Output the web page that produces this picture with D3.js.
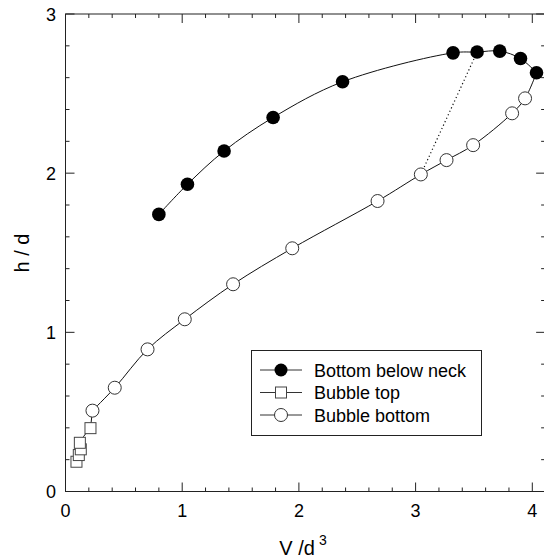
<!DOCTYPE html>
<html lang="en">
<head>
<meta charset="utf-8">
<title>h/d vs V/d3</title>
<script src="https://d3js.org/d3.v7.min.js"></script>
<style>
  body { margin: 0; background: #fff; }
  text { font-family: "Liberation Sans", Arial, Helvetica, sans-serif; fill: #000; }
</style>
</head>
<body>
<svg width="544" height="560"></svg>
<script>
// bottom below neck (filled circles)
var neckV = [0.80, 1.045, 1.359, 1.779, 2.374, 3.321, 3.527, 3.721, 3.899, 4.036];
var neckH = [1.741, 1.930, 2.139, 2.350, 2.574, 2.756, 2.761, 2.767, 2.720, 2.631];
// bubble top (squares)
var topV = [0.214, 0.123, 0.131, 0.114, 0.094];
var topH = [0.398, 0.306, 0.265, 0.229, 0.187];
// bubble bottom (open circles)
var botV = [0.231, 0.422, 0.703, 1.022, 1.436, 1.943, 2.674, 3.045, 3.265, 3.493, 3.827, 3.938];
var botH = [0.508, 0.652, 0.893, 1.082, 1.302, 1.528, 1.825, 1.992, 2.082, 2.176, 2.376, 2.470];
var xTicks = [0, 1, 2, 3, 4];
var yTicks = [0, 1, 2, 3];
var legendLabels = ["Bottom below neck", "Bubble top", "Bubble bottom"];

var svg = d3.select("svg");

var xMax = 4.11;
var x = d3.scaleLinear().domain([0, xMax]).range([65.5, 65.5 + xMax * 116.7]);
var y = d3.scaleLinear().domain([0, 3]).range([491.5, 14]);

function pts(vs, hs) { return vs.map(function(v, i) { return [v, hs[i]]; }); }
var neck = pts(neckV, neckH), top_ = pts(topV, topH), bot = pts(botV, botH);

// frame + ticks (inward, all four sides)
var minorX = d3.range(0, 4.01, 0.2), minorY = d3.range(0, 3.01, 0.2);
var ax = svg.append("g").attr("stroke", "#222").attr("stroke-width", 1).attr("fill", "none");
ax.append("rect")
    .attr("x", x(0)).attr("y", y(3))
    .attr("width", x(xMax) - x(0)).attr("height", y(0) - y(3));

function isMajor(v) { return Math.abs(v - Math.round(v)) < 1e-6; }

minorX.forEach(function(v) {
  var len = isMajor(v) ? 9 : 4;
  ax.append("line").attr("x1", x(v)).attr("x2", x(v)).attr("y1", y(0)).attr("y2", y(0) - len);
  ax.append("line").attr("x1", x(v)).attr("x2", x(v)).attr("y1", y(3)).attr("y2", y(3) + len);
});
minorY.forEach(function(v) {
  var len = isMajor(v) ? 9 : 4;
  ax.append("line").attr("y1", y(v)).attr("y2", y(v)).attr("x1", x(0)).attr("x2", x(0) + len);
  ax.append("line").attr("y1", y(v)).attr("y2", y(v)).attr("x1", x(xMax)).attr("x2", x(xMax) - len);
});

svg.append("g").selectAll("text").data(xTicks).enter().append("text")
    .attr("x", function(d) { return x(d); })
    .attr("y", 517)
    .attr("text-anchor", "middle")
    .attr("font-size", 18)
    .text(function(d) { return d; });

svg.append("g").selectAll("text").data(yTicks).enter().append("text")
    .attr("x", 56)
    .attr("y", function(d) { return y(d) + 6.5; })
    .attr("text-anchor", "end")
    .attr("font-size", 18)
    .text(function(d) { return d; });

// axis titles
svg.append("text")
    .attr("transform", "translate(29,253) rotate(-90)")
    .attr("text-anchor", "middle")
    .attr("font-size", 20)
    .text("h / d");

var xt = svg.append("text")
    .attr("x", 303).attr("y", 555)
    .attr("text-anchor", "middle")
    .attr("font-size", 20);
xt.append("tspan").text("V /d");
xt.append("tspan").attr("font-size", 14).attr("dx", 4).attr("dy", -10).text("3");

// curves
var line = d3.line()
    .x(function(d) { return x(d[0]); })
    .y(function(d) { return y(d[1]); })
    .curve(d3.curveCatmullRom.alpha(0.5));

var curves = svg.append("g").attr("fill", "none").attr("stroke", "#111").attr("stroke-width", 1);
curves.append("path").attr("d", line(neck));
curves.append("path").attr("d", line(bot.concat([neck[neck.length - 1]])));
curves.append("path").attr("d", line(top_));
curves.append("path").attr("d", line([bot[0], top_[0]]));

// dotted link
svg.append("line")
    .attr("x1", x(neck[6][0])).attr("y1", y(neck[6][1]))
    .attr("x2", x(bot[7][0])).attr("y2", y(bot[7][1]))
    .attr("stroke", "#111").attr("stroke-width", 1.2)
    .attr("stroke-dasharray", "1.2,2.6");

// markers
svg.append("g").selectAll("rect").data(top_.slice().reverse()).enter().append("rect")
    .attr("x", function(d) { return x(d[0]) - 5.5; })
    .attr("y", function(d) { return y(d[1]) - 5.5; })
    .attr("width", 11).attr("height", 11)
    .attr("fill", "#fff").attr("stroke", "#444").attr("stroke-width", 1);

svg.append("g").selectAll("circle").data(bot).enter().append("circle")
    .attr("cx", function(d) { return x(d[0]); })
    .attr("cy", function(d) { return y(d[1]); })
    .attr("r", 6.5)
    .attr("fill", "#fff").attr("stroke", "#333").attr("stroke-width", 1);

svg.append("g").selectAll("circle").data(neck).enter().append("circle")
    .attr("cx", function(d) { return x(d[0]); })
    .attr("cy", function(d) { return y(d[1]); })
    .attr("r", 6.8)
    .attr("fill", "#000");

// legend
var lg = svg.append("g");
lg.append("rect")
    .attr("x", 251.5).attr("y", 350.5).attr("width", 230).attr("height", 85)
    .attr("fill", "#fff").attr("stroke", "#222").attr("stroke-width", 1);

legendLabels.forEach(function(lab, i) {
  var cy = 370 + i * 22.5;
  lg.append("line").attr("x1", 260).attr("x2", 302).attr("y1", cy).attr("y2", cy)
      .attr("stroke", "#333").attr("stroke-width", 1);
  if (i === 0) {
    lg.append("circle").attr("cx", 281).attr("cy", cy).attr("r", 6.5).attr("fill", "#000");
  } else if (i === 1) {
    lg.append("rect").attr("x", 275.5).attr("y", cy - 5.5).attr("width", 11).attr("height", 11)
        .attr("fill", "#fff").attr("stroke", "#444");
  } else {
    lg.append("circle").attr("cx", 281).attr("cy", cy).attr("r", 6.5)
        .attr("fill", "#fff").attr("stroke", "#333");
  }
  lg.append("text").attr("x", 314).attr("y", cy + 6.5)
      .attr("font-size", 18).text(lab);
});
</script>
</body>
</html>
